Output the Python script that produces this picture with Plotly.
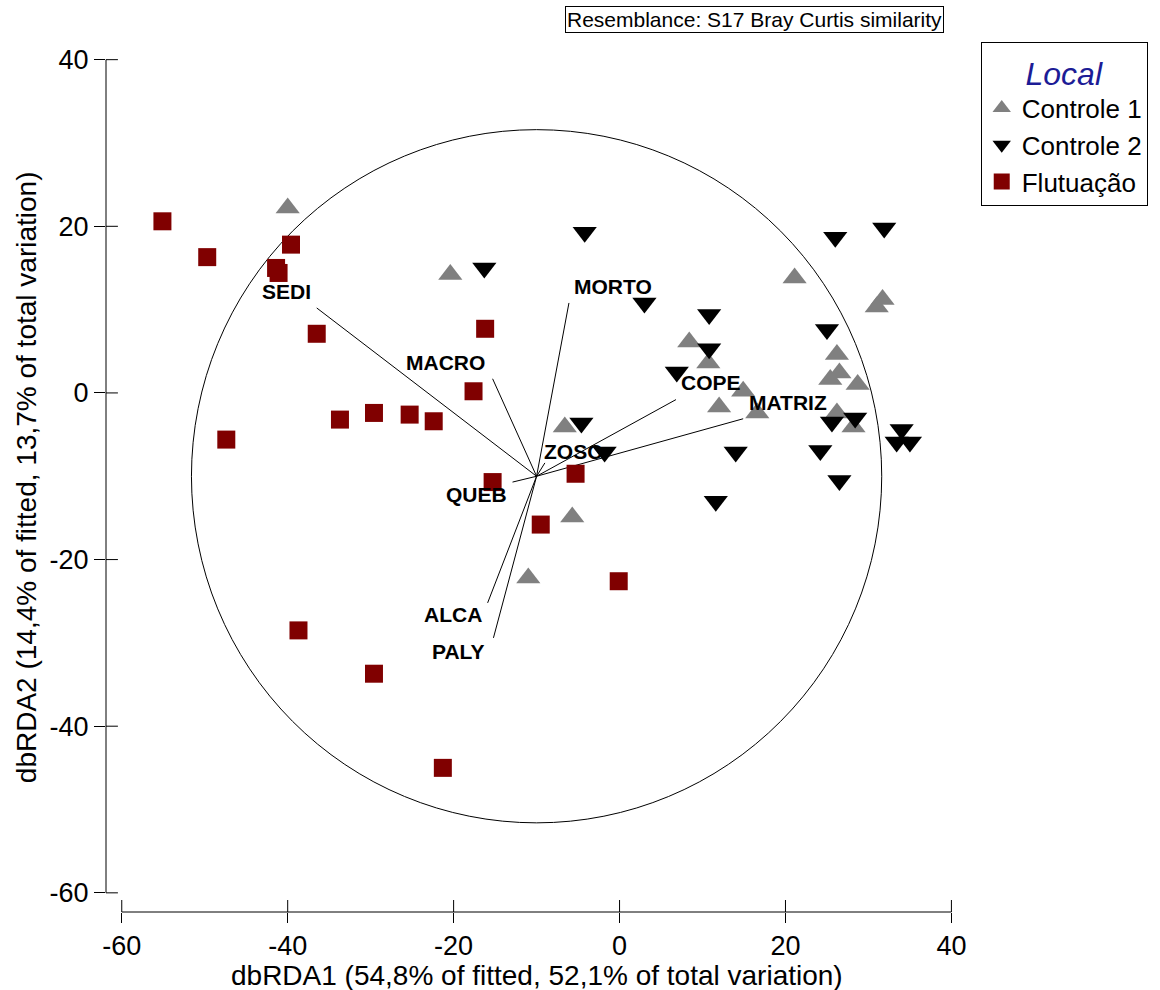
import plotly.graph_objects as go

# ---- site scores on dbRDA1 / dbRDA2 ----
ctrl1_x = [-40.0, -20.4, -6.6, -5.7, -11.0, 8.4, 10.7, 14.9, 12.0, 16.6,
           21.1, 31.7, 31.0, 26.2, 26.5, 25.4, 28.7, 26.2, 28.2]
ctrl1_y = [22.2, 14.2, -4.1, -14.9, -22.2, 6.1, 3.6, 0.2, -1.7, -2.4,
           13.8, 11.2, 10.3, 4.6, 2.4, 1.6, 1.0, -2.4, -4.1]

ctrl2_x = [-16.3, -4.2, 3.0, 10.8, 10.8, 6.9, -4.6, -1.8, 14.0, 11.6,
           25.0, 26.0, 31.9, 25.6, 28.4, 34.0, 33.4, 35.0, 24.2, 26.5]
ctrl2_y = [15.0, 19.3, 10.8, 9.4, 5.3, 2.5, -3.6, -7.1, -7.1, -13.0,
           7.6, 18.7, 19.8, -3.5, -3.0, -4.4, -5.9, -5.9, -6.9, -10.5]

flut_x = [-55.1, -49.7, -39.6, -41.4, -41.1, -36.5, -16.2, -17.6, -33.7, -29.6,
          -25.3, -22.4, -47.4, -15.3, -5.3, -9.5, -0.1, -38.7, -29.6, -21.3]
flut_y = [20.6, 16.3, 17.8, 15.0, 14.4, 7.1, 7.7, 0.2, -3.2, -2.4,
          -2.6, -3.4, -5.6, -10.7, -9.7, -15.8, -22.6, -28.5, -33.7, -45.0]

# ---- predictor vectors (drawn from the circle centre) ----
vec_names = ["SEDI", "MACRO", "MORTO", "COPE", "MATRIZ", "ZOSC", "QUEB", "ALCA", "PALY"]
vec_x = [-36.5, -15.3, -6.1, 6.8, 14.9, -9.0, -12.9, -15.9, -15.2]
vec_y = [10.2, 1.7, 10.8, -0.8, -3.1, -8.4, -10.7, -25.2, -29.4]

circle_cx, circle_cy, circle_r = -10.0, -10.0, 41.6

tick_vals = [-60, -40, -20, 0, 20, 40]
tick_text = ["-60", "-40", "-20", "0", "20", "40"]

# label offsets in pixels (x right, y up) relative to each vector tip
label_shift = [(-30, 16), (-47, 16), (44, 16), (35, 17), (45, 16),
               (28, 11), (-36, -12), (-35, -12), (-35, -14)]

FONT = "Arial, 'Liberation Sans', sans-serif"

fig = go.Figure()

# vector lines
lx, ly = [], []
for vx, vy in zip(vec_x, vec_y):
    lx += [circle_cx, vx, None]
    ly += [circle_cy, vy, None]
fig.add_trace(go.Scatter(x=lx, y=ly, mode="lines", line=dict(color="black", width=1),
                         showlegend=False, hoverinfo="skip"))

fig.add_trace(go.Scatter(x=ctrl1_x, y=ctrl1_y, mode="markers", name="Controle 1",
                         marker=dict(symbol="triangle-up", size=21, color="#808080",
                                     line=dict(width=0))))
fig.add_trace(go.Scatter(x=ctrl2_x, y=ctrl2_y, mode="markers", name="Controle 2",
                         marker=dict(symbol="triangle-down", size=21, color="#000000",
                                     line=dict(width=0))))
fig.add_trace(go.Scatter(x=flut_x, y=flut_y, mode="markers", name="Flutuação",
                         marker=dict(symbol="square", size=18, color="#800000",
                                     line=dict(width=0))))

shapes = []
# vector circle
shapes.append(dict(type="circle", xref="x", yref="y",
                   x0=circle_cx - circle_r, x1=circle_cx + circle_r,
                   y0=circle_cy - circle_r, y1=circle_cy + circle_r,
                   line=dict(color="black", width=1), layer="below"))
# axis lines spanning the tick range only
shapes.append(dict(type="line", xref="x", yref="paper", x0=tick_vals[0], x1=tick_vals[-1],
                   y0=0, y1=0, line=dict(color="black", width=1)))
shapes.append(dict(type="line", xref="paper", yref="y", x0=0, x1=0,
                   y0=tick_vals[0], y1=tick_vals[-1], line=dict(color="black", width=1)))
# inner half of the crossing ticks
for v in tick_vals:
    shapes.append(dict(type="line", xref="x", yref="paper", x0=v, x1=v, y0=0, y1=12 / 869,
                       line=dict(color="black", width=1)))
    shapes.append(dict(type="line", xref="paper", yref="y", x0=0, x1=12 / 868, y0=v, y1=v,
                       line=dict(color="black", width=1)))

annotations = []
for name, vx, vy, (dx, dy) in zip(vec_names, vec_x, vec_y, label_shift):
    annotations.append(dict(x=vx, y=vy, xref="x", yref="y", text=f"<b>{name}</b>",
                            showarrow=False, xshift=dx, yshift=dy,
                            font=dict(family=FONT, size=21, color="black")))

annotations.append(dict(x=0.752, y=1.0265, xref="paper", yref="paper",
                        text="Resemblance: S17 Bray Curtis similarity", showarrow=False,
                        xanchor="center", yanchor="middle",
                        font=dict(family=FONT, size=21, color="black"),
                        bordercolor="black", borderwidth=1, borderpad=1, bgcolor="white"))
annotations.append(dict(x=0.5, y=-0.0725, xref="paper", yref="paper",
                        text="dbRDA1 (54,8% of fitted, 52,1% of total variation)",
                        showarrow=False, xanchor="center", yanchor="middle",
                        font=dict(family=FONT, size=28, color="black")))
annotations.append(dict(x=-0.092, y=0.5, xref="paper", yref="paper",
                        text="dbRDA2 (14,4% of fitted, 13,7% of total variation)",
                        showarrow=False, xanchor="center", yanchor="middle", textangle=-90,
                        font=dict(family=FONT, size=28, color="black")))

fig.update_layout(
    width=1160, height=990,
    margin=dict(l=106, r=186, t=43, b=78),
    paper_bgcolor="white", plot_bgcolor="white",
    font=dict(family=FONT, color="black"),
    shapes=shapes, annotations=annotations,
    xaxis=dict(range=[-61.9, 42.0], tickvals=tick_vals, ticktext=tick_text,
               ticks="outside", ticklen=10,
               tickwidth=1, tickcolor="black", showgrid=False, zeroline=False,
               showline=False, tickfont=dict(size=27)),
    yaxis=dict(range=[-62.3, 42.0], tickvals=tick_vals, ticktext=tick_text,
               ticks="outside", ticklen=11,
               tickwidth=1, tickcolor="black", showgrid=False, zeroline=False,
               showline=False, tickfont=dict(size=27)),
    legend=dict(x=1.2085, xanchor="right", y=1.0012, yanchor="top",
                bgcolor="white", bordercolor="black", borderwidth=1,
                font=dict(size=26, color="black"), tracegroupgap=0,
                title=dict(text="<i>Local</i>", side="top center",
                           font=dict(size=32, color="#1C1C96"))),
)

fig.write_html("out.html")
